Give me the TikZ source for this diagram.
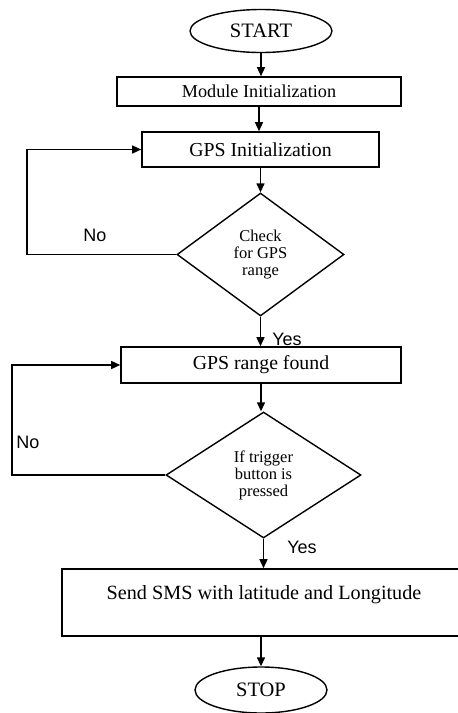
\documentclass[tikz,border=0pt]{standalone}
\usepackage{fontspec}
\setmainfont{Liberation Serif}
\newfontfamily\lblfont{Liberation Sans}
\usetikzlibrary{shapes.geometric,arrows.meta}
\tikzset{
  box/.style={draw, line width=1.6pt, rectangle, inner sep=0pt},
  term/.style={draw, line width=1.4pt, ellipse, inner sep=0pt},
  decide/.style={draw, line width=1.4pt, diamond, inner sep=0pt, align=center,
    font=\fontsize{16.5}{17}\selectfont},
  flow/.style={line width=1.4pt, -{Triangle[length=9pt,width=8pt]}},
  lbl/.style={font=\lblfont\fontsize{18}{18}\selectfont, inner sep=0pt}
}
\begin{document}
\begin{tikzpicture}[x=1pt,y=-1pt]
\useasboundingbox (0,0) rectangle (458,713);
\fill[white] (0,0) rectangle (458,713);
\begin{scope}
\clip (0,0) rectangle (458,713);
\node[term, minimum width=142pt, minimum height=43pt, font=\fontsize{20.5}{21}\selectfont] (start) at (261,31) {START};
\node[box, minimum width=284pt, minimum height=29pt, font=\fontsize{18.2}{19}\selectfont] (mod) at (259,91.5) {Module Initialization};
\node[box, minimum width=237pt, minimum height=35pt, font=\fontsize{19.8}{20}\selectfont] (gps) at (260.5,149.5) {GPS Initialization};
\node[decide, minimum width=167pt, minimum height=123pt] (chk) at (260.5,254.5) {Check\\for GPS\\range};
\node[box, minimum width=280pt, minimum height=36pt, font=\fontsize{19.8}{20}\selectfont] (found) at (261,365) {GPS range found};
\node[decide, minimum width=195pt, minimum height=126pt] (trig) at (263.5,475) {If trigger\\button is\\pressed};
\node[box, minimum width=404pt, minimum height=67pt, text height=13pt, text depth=19pt, font=\fontsize{20.2}{21}\selectfont] (sms) at (264,602.5) {Send SMS with latitude and Longitude};
\node[term, minimum width=132pt, minimum height=46pt, font=\fontsize{20.5}{21}\selectfont] (stop) at (261,690) {STOP};

\coordinate (l1) at (27,254.5);
\coordinate (l2) at (12,475);

\draw[flow] (start.south) -- (start.south |- mod.north);
\draw[flow] (mod.south) -- (mod.south |- gps.north);
\draw[flow] (gps.south) -- (gps.south |- chk.north);
\draw[flow] (chk.south) -- (chk.south |- found.north);
\draw[flow] (found.south) -- (found.south |- trig.north);
\draw[flow] (trig.south) -- (trig.south |- sms.north);
\draw[flow] (sms.south -| stop.north) -- (stop.north);
\draw[flow] (chk.west) -- (l1) |- (gps.west);
\draw[flow] (trig.west) -- (l2) |- (found.west);

\node[lbl] (no1) at (95,235) {No};
\node[lbl] (no2) at (28,442) {No};
\node[lbl] (yes1) at (287,339) {Yes};
\node[lbl] (yes2) at (302,547) {Yes};
\end{scope}
\end{tikzpicture}
\end{document}
